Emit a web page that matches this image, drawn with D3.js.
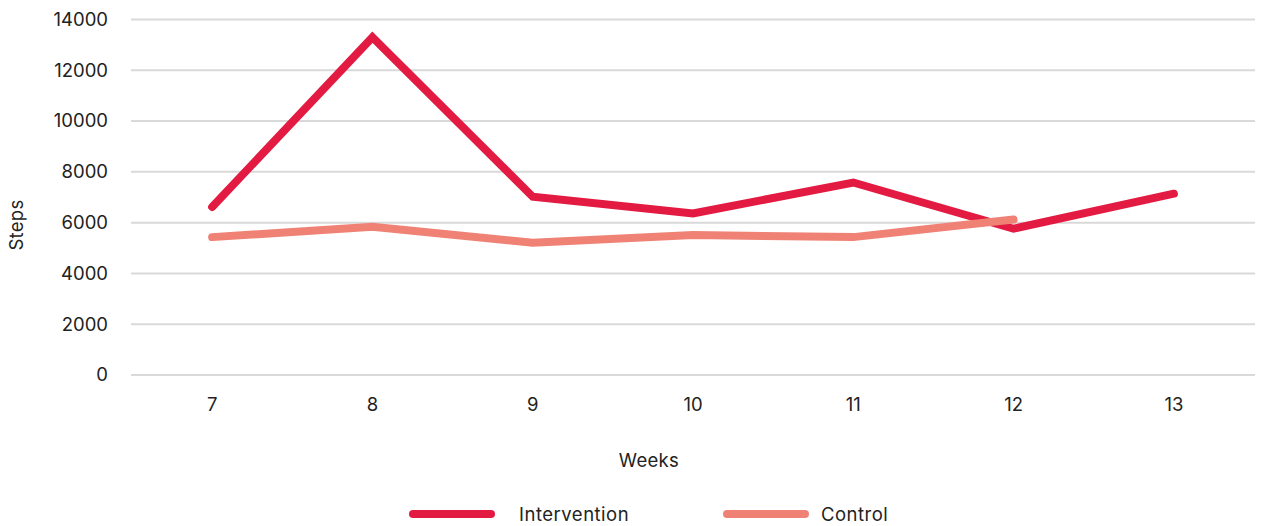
<!DOCTYPE html>
<html>
<head>
<meta charset="utf-8">
<script src="https://cdn.jsdelivr.net/npm/d3@7"></script>
<style>
  html, body { margin: 0; padding: 0; background: #fff; }
  svg { display: block; font-family: Inter, "Noto Sans", sans-serif; }
</style>
</head>
<body>
<svg id="chart" width="1265" height="526"></svg>
<script>
// Weekly average steps per group
const weeks = ["7", "8", "9", "10", "11", "12", "13"];
const intervention = [6620, 13300, 7020, 6360, 7580, 5760, 7140];
const control = [5430, 5840, 5210, 5510, 5430, 6120];
const yTicks = [0, 2000, 4000, 6000, 8000, 10000, 12000, 14000];
const seriesNames = ["Intervention", "Control"];
const seriesColors = ["#E31A41", "#EF8275"];

const svg = d3.select("#chart");
const textColor = "#222";

const x = d3.scaleBand().domain(weeks).range([132, 1254]);
const y = d3.scaleLinear().domain([0, 14000]).range([375, 19.5]);

// Horizontal gridlines
svg.append("g")
  .selectAll("line")
  .data(yTicks)
  .join("line")
  .attr("x1", 131).attr("x2", 1255)
  .attr("y1", d => y(d)).attr("y2", d => y(d))
  .attr("stroke", "#d9d9d9").attr("stroke-width", 2);

// Y axis labels
const yAxis = svg.append("g")
  .attr("transform", "translate(108,0)")
  .call(d3.axisLeft(y).tickValues(yTicks).tickFormat(d3.format("d")).tickSize(0).tickPadding(0));
yAxis.select(".domain").remove();
yAxis.selectAll("text")
  .attr("font-size", 18.5).attr("font-family", "Inter, sans-serif").attr("fill", textColor);

// X axis labels
const xAxis = svg.append("g")
  .attr("transform", "translate(0,398)")
  .call(d3.axisBottom(x).tickSize(0).tickPadding(0));
xAxis.select(".domain").remove();
xAxis.selectAll("text")
  .attr("font-size", 18.5).attr("font-family", "Inter, sans-serif").attr("fill", textColor);

// Axis titles
svg.append("text")
  .attr("x", 649).attr("y", 467)
  .attr("text-anchor", "middle")
  .attr("font-size", 18.5).attr("letter-spacing", 0.3).attr("fill", textColor)
  .text("Weeks");

svg.append("text")
  .attr("transform", "translate(23,225) rotate(-90)")
  .attr("text-anchor", "middle")
  .attr("font-size", 18.5).attr("letter-spacing", 0.3).attr("fill", textColor)
  .text("Steps");

// Lines
const line = d3.line()
  .x((d, i) => x(weeks[i]) + x.bandwidth() / 2)
  .y(d => y(d));

[intervention, control].forEach((vals, k) => {
  svg.append("path")
    .datum(vals)
    .attr("d", line)
    .attr("fill", "none")
    .attr("stroke", seriesColors[k])
    .attr("stroke-width", 8)
    .attr("stroke-linejoin", "miter")
    .attr("stroke-linecap", "round");
});

// Legend
const legendX = [413, 727];
seriesNames.forEach((name, k) => {
  const g = svg.append("g").attr("transform", `translate(${legendX[k]},514)`);
  g.append("line")
    .attr("x1", 0).attr("x2", 78)
    .attr("y1", 0).attr("y2", 0)
    .attr("stroke", seriesColors[k])
    .attr("stroke-width", 8)
    .attr("stroke-linecap", "round");
  g.append("text")
    .attr("x", k === 0 ? 106 : 94).attr("y", 6.5)
    .attr("font-size", 18.5).attr("letter-spacing", 0.5).attr("fill", textColor)
    .text(name);
});
</script>
</body>
</html>
